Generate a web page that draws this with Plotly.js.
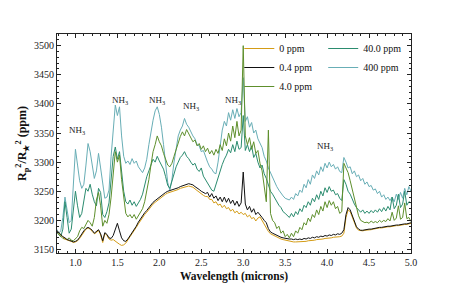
<!DOCTYPE html>
<html>
<head>
<meta charset="utf-8">
<script src="https://cdn.plot.ly/plotly-3.0.1.min.js"></script>
<style>html,body{margin:0;padding:0;background:#fff;}#chart{width:457px;height:286px;}</style>
</head>
<body>
<div id="chart"></div>
<script>
// Wavelength grid (microns)
const wavelength = [
0.775,0.8,0.825,0.85, 0.875,0.9,0.925,0.95, 0.975,1.0,1.025,1.05, 1.075,1.1,1.125,1.15,
1.175,1.2,1.225,1.25, 1.275,1.3,1.325,1.35, 1.375,1.4,1.425,1.45, 1.475,1.5,1.525,1.55,
1.575,1.6,1.625,1.65, 1.675,1.7,1.725,1.75, 1.775,1.8,1.825,1.85, 1.875,1.9,1.925,1.95,
1.975,2.0,2.025,2.05, 2.075,2.1,2.125,2.15, 2.175,2.2,2.225,2.25, 2.275,2.3,2.325,2.35,
2.375,2.4,2.425,2.45, 2.475,2.5,2.525,2.55, 2.575,2.6,2.625,2.65, 2.675,2.7,2.725,2.75,
2.775,2.8,2.825,2.85, 2.875,2.9,2.925,2.95, 2.975,3.0,3.025,3.05, 3.075,3.1,3.125,3.15,
3.175,3.2,3.225,3.25, 3.275,3.3,3.325,3.35, 3.375,3.4,3.425,3.45, 3.475,3.5,3.525,3.55,
3.575,3.6,3.625,3.65, 3.675,3.7,3.725,3.75, 3.775,3.8,3.825,3.85, 3.875,3.9,3.925,3.95,
3.975,4.0,4.025,4.05, 4.075,4.1,4.125,4.15, 4.175,4.2,4.225,4.25, 4.275,4.3,4.325,4.35,
4.375,4.4,4.425,4.45, 4.475,4.5,4.525,4.55, 4.575,4.6,4.625,4.65, 4.675,4.7,4.725,4.75,
4.775,4.8,4.825,4.85, 4.875,4.9,4.925,4.95, 4.975,5.0];

// Transit depth (ppm) for each NH3 abundance
const depth_0ppm = [
3182,3178,3174,3171, 3168,3166,3165,3164, 3162,3163,3165,3169, 3175,3181,3185,3187,
3185,3181,3177,3179, 3183,3175,3162,3178, 3174,3168,3166,3167, 3164,3162,3159,3157,
3158,3161,3166,3171, 3176,3182,3188,3194, 3200,3205,3210,3214, 3219,3224,3228,3231,
3234,3237,3240,3243, 3245,3247,3248,3249, 3250,3251,3253,3255, 3256,3258,3259,3259,
3258,3257,3254,3251, 3248,3246,3243,3241, 3241,3236,3236,3230, 3232,3226,3228,3222,
3226,3220,3222,3216, 3219,3213,3216,3211, 3214,3210,3212,3206, 3209,3203,3205,3199,
3204,3206,3200,3192, 3187,3181,3177,3175, 3173,3171,3170,3168, 3167,3166,3165,3164,
3164,3163,3163,3163, 3163,3163,3164,3164, 3165,3165,3166,3166, 3167,3167,3168,3168,
3169,3169,3170,3170, 3171,3171,3172,3172, 3173,3178,3205,3218, 3215,3205,3195,3187,
3183,3182,3182,3183, 3183,3184,3184,3185, 3186,3186,3187,3187, 3188,3188,3189,3189,
3190,3190,3191,3191, 3192,3192,3193,3193, 3194,3195];

const depth_04ppm = [
3183,3179,3176,3172, 3170,3167,3166,3165, 3163,3164,3166,3171, 3177,3182,3186,3188,
3186,3183,3178,3181, 3184,3177,3165,3179, 3176,3170,3169,3174, 3186,3195,3182,3170,
3165,3164,3168,3173, 3178,3185,3190,3197, 3203,3208,3213,3217, 3222,3227,3231,3234,
3237,3240,3243,3246, 3248,3250,3251,3252, 3253,3254,3256,3258, 3259,3261,3262,3263,
3262,3261,3258,3256, 3253,3250,3248,3246, 3248,3240,3246,3238, 3242,3234,3240,3232,
3240,3231,3238,3229, 3235,3226,3233,3224, 3230,3283,3228,3218, 3224,3214,3220,3210,
3214,3210,3205,3200, 3196,3186,3180,3178, 3176,3174,3173,3171, 3170,3169,3169,3168,
3168,3167,3168,3167, 3168,3167,3169,3168, 3170,3169,3171,3170, 3172,3171,3173,3172,
3174,3173,3175,3174, 3176,3175,3177,3176, 3178,3184,3210,3222, 3218,3208,3197,3189,
3185,3183,3183,3184, 3184,3185,3185,3186, 3187,3187,3188,3188, 3189,3189,3190,3190,
3191,3191,3192,3192, 3193,3193,3194,3194, 3195,3196];

const depth_4ppm = [
3180,3176,3172,3169, 3168,3167,3170,3166, 3165,3168,3172,3182, 3188,3186,3192,3200,
3196,3190,3205,3235, 3248,3225,3190,3200, 3195,3210,3240,3280, 3318,3300,3312,3270,
3235,3212,3206,3210, 3204,3210,3202,3208, 3212,3220,3232,3250, 3270,3295,3318,3330,
3345,3335,3328,3315, 3305,3295,3292,3298, 3310,3322,3335,3344, 3352,3345,3356,3348,
3342,3335,3338,3328, 3332,3322,3328,3318, 3324,3314,3320,3312, 3322,3315,3330,3320,
3340,3328,3350,3336, 3362,3342,3370,3345, 3355,3500,3345,3330, 3342,3322,3335,3315,
3320,3298,3285,3255, 3232,3355,3212,3200, 3196,3186,3190,3178, 3182,3172,3176,3170,
3178,3172,3182,3178, 3188,3184,3196,3192, 3204,3198,3210,3205, 3218,3210,3224,3216,
3232,3222,3234,3226, 3232,3220,3224,3212, 3215,3298,3290,3282, 3268,3252,3236,3220,
3208,3200,3198,3196, 3197,3195,3199,3196, 3198,3196,3200,3197, 3200,3198,3203,3199,
3214,3200,3204,3225, 3202,3205,3230,3203, 3205,3198];

const depth_40ppm = [
3180,3175,3172,3185, 3232,3205,3178,3185, 3215,3250,3225,3205, 3212,3235,3255,3250,
3262,3245,3232,3225, 3255,3248,3210,3205, 3215,3230,3275,3310, 3326,3305,3318,3285,
3250,3232,3228,3235, 3226,3232,3224,3230, 3236,3245,3262,3275, 3285,3296,3305,3300,
3310,3302,3295,3288, 3275,3260,3255,3268, 3280,3292,3300,3308, 3312,3318,3310,3306,
3300,3295,3298,3288, 3284,3290,3276,3270, 3262,3256,3252,3250, 3262,3270,3285,3296,
3305,3312,3322,3316, 3330,3318,3336,3322, 3325,3380,3320,3330, 3318,3328,3308,3315,
3300,3290,3295,3280, 3272,3262,3250,3245, 3238,3232,3226,3222, 3215,3212,3208,3205,
3212,3206,3215,3210, 3220,3215,3226,3222, 3232,3226,3238,3232, 3244,3236,3250,3242,
3256,3248,3258,3250, 3252,3244,3246,3238, 3234,3270,3262,3250, 3245,3236,3228,3222,
3218,3214,3218,3212, 3216,3212,3217,3213, 3218,3214,3220,3215, 3222,3216,3224,3218,
3240,3220,3226,3245, 3222,3228,3250,3226, 3232,3230];

const depth_400ppm = [
3185,3178,3182,3205, 3240,3215,3196,3200, 3262,3322,3295,3268, 3255,3262,3295,3332,
3318,3298,3272,3285, 3315,3290,3262,3238, 3240,3252,3310,3360, 3398,3380,3395,3345,
3310,3298,3302,3296, 3306,3298,3302,3292, 3286,3282,3290,3305, 3330,3355,3372,3388,
3395,3382,3360,3330, 3295,3265,3252,3270, 3300,3325,3345,3355, 3362,3375,3365,3360,
3352,3345,3340,3330, 3328,3318,3320,3308, 3300,3292,3288,3282, 3280,3300,3330,3355,
3370,3362,3385,3372, 3390,3375,3392,3378, 3385,3445,3370,3378, 3360,3368,3350,3355,
3340,3332,3325,3310, 3302,3290,3282,3272, 3265,3258,3252,3246, 3242,3238,3236,3235,
3240,3236,3246,3242, 3252,3248,3262,3256, 3270,3262,3278,3272, 3285,3278,3292,3284,
3298,3290,3300,3292, 3296,3288,3292,3284, 3282,3308,3300,3290, 3292,3280,3285,3275,
3278,3268,3272,3262, 3266,3258,3260,3252, 3254,3246,3250,3240, 3244,3236,3240,3234,
3240,3232,3245,3236, 3248,3238,3255,3244, 3258,3250];

const seriesNames = ["0 ppm", "0.4 ppm", "4.0 ppm", "40.0 ppm", "400 ppm"];
const seriesColors = ["#d49c16", "#111111", "#5e8f2c", "#2b8c6f", "#68aeb6"];

// NH3 feature labels
const labelX = [1.02, 1.53, 1.97, 2.38, 2.88, 3.98];
const labelY = [3354, 3405, 3405, 3395, 3405, 3326];
const labelText = "NH<sub>3</sub>";

const FONT = "'Liberation Serif', 'Times New Roman', serif";

const seriesData = [depth_0ppm, depth_04ppm, depth_4ppm, depth_40ppm, depth_400ppm];
const drawOrder = [4, 3, 2, 0, 1];
const traces = drawOrder.map(i => ({
  type: "scatter", mode: "lines",
  x: wavelength, y: seriesData[i],
  name: seriesNames[i],
  legend: i < 3 ? "legend" : "legend2",
  legendrank: i + 1,
  line: {color: seriesColors[i], width: 1},
  hoverinfo: "skip"
}));

const annotations = labelX.map((x, k) => ({
  x: x, y: labelY[k], xref: "x", yref: "y",
  text: labelText, showarrow: false,
  font: {family: FONT, size: 9, color: "#222"}
}));

const axisCommon = {
  showline: true, linecolor: "#222", linewidth: 1, mirror: "allticks",
  ticks: "inside", ticklen: 4, tickwidth: 1, tickcolor: "#222",
  showgrid: false, zeroline: false,
  tickfont: {family: FONT, size: 10, color: "#222"}
};

const layout = {
  width: 457, height: 286,
  margin: {l: 57, r: 46, t: 34, b: 33},
  paper_bgcolor: "#fff", plot_bgcolor: "#fff",
  showlegend: true,
  xaxis: Object.assign({}, axisCommon, {
    range: [0.78, 5.0], tick0: 1.0, dtick: 0.5, tickformat: ".1f",
    minor: {dtick: 0.1, ticks: "inside", ticklen: 2, tickcolor: "#222"},
    ticklabelstandoff: 0,
    title: {text: "<b>Wavelength (microns)</b>", font: {family: FONT, size: 11.5, color: "#111"}, standoff: 4}
  }),
  yaxis: Object.assign({}, axisCommon, {
    range: [3144, 3520], tick0: 3150, dtick: 50,
    minor: {dtick: 10, ticks: "inside", ticklen: 2, tickcolor: "#222"},
    ticklabelstandoff: 0,
    title: {text: "<b>R<sub>p</sub><sup>2</sup>/R<sub>★</sub><sup>2</sup> (ppm)</b>", font: {family: FONT, size: 12, color: "#111"}, standoff: 4}
  }),
  legend: {
    x: 0.515, y: 1.0, xanchor: "left", yanchor: "top",
    bgcolor: "rgba(0,0,0,0)", borderwidth: 0,
    font: {family: FONT, size: 10, color: "#111"},
    tracegroupgap: 0, itemwidth: 30
  },
  legend2: {
    x: 0.752, y: 1.0, xanchor: "left", yanchor: "top",
    bgcolor: "rgba(0,0,0,0)", borderwidth: 0,
    font: {family: FONT, size: 10, color: "#111"},
    tracegroupgap: 0, itemwidth: 30
  },
  annotations: annotations
};

Plotly.newPlot("chart", traces, layout, {staticPlot: true, displayModeBar: false});
</script>
</body>
</html>
